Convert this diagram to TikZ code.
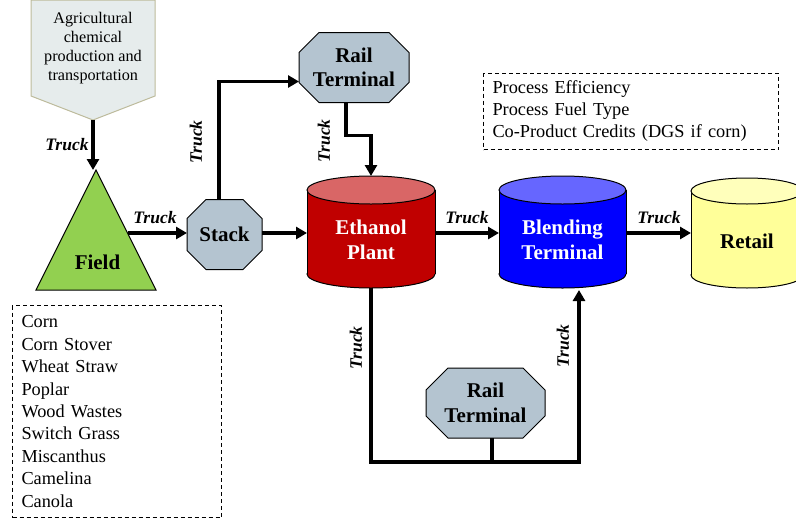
\documentclass[tikz,border=0pt]{standalone}
\usepackage{fontspec}
\setmainfont{Liberation Serif}
\usetikzlibrary{arrows.meta,backgrounds,calc}
\definecolor{octfill}{HTML}{B4C4D0}
\definecolor{fieldgreen}{HTML}{92D050}
\definecolor{agrifill}{HTML}{E6ECEC}
\definecolor{agriline}{HTML}{BDBB9C}
\definecolor{ethbody}{HTML}{C00000}
\definecolor{ethtop}{HTML}{D96666}
\definecolor{blbody}{HTML}{0000FF}
\definecolor{bltop}{HTML}{6666FF}
\definecolor{rtbody}{HTML}{FFFF99}
\definecolor{rttop}{HTML}{FFFFBB}

\newcommand\myoct[2]{%
  \filldraw[fill=octfill, draw=black, line width=1pt]
    ([xshift=#2pt]#1.north west) -- ([xshift=-#2pt]#1.north east) --
    ([yshift=-#2pt]#1.north east) -- ([yshift=#2pt]#1.south east) --
    ([xshift=-#2pt]#1.south east) -- ([xshift=#2pt]#1.south west) --
    ([yshift=#2pt]#1.south west) -- ([yshift=-#2pt]#1.north west) -- cycle;}

\newcommand\mycyl[5]{%
  \filldraw[draw=black, line width=1pt, fill=#4] ([yshift=#3pt]#1.south) ellipse [x radius=#2, y radius=#3];
  \fill[#4] ([yshift=-#3pt]#1.north west) rectangle ([yshift=#3pt]#1.south east);
  \draw[line width=1pt] ([yshift=-#3pt]#1.north west) -- ([yshift=#3pt]#1.south west);
  \draw[line width=1pt] ([yshift=-#3pt]#1.north east) -- ([yshift=#3pt]#1.south east);
  \filldraw[draw=black, line width=1pt, fill=#5] ([yshift=-#3pt]#1.north) ellipse [x radius=#2, y radius=#3];}

\tikzset{
  shapebox/.style={inner sep=0pt, outer sep=0pt},
  bigtxt/.style={font=\fontsize{21}{24.5}\selectfont\bfseries, align=center},
  conn/.style={line width=3.2pt, -{Triangle[length=11pt,width=12pt]}},
  plainconn/.style={line width=3.2pt},
  trucklbl/.style={font=\fontsize{17.5}{20}\selectfont\bfseries\itshape, inner sep=0pt},
  notebox/.style={draw, dash pattern=on 4pt off 3pt, line width=1pt, inner xsep=9pt, inner ysep=0pt, align=left},
}

\begin{document}
\begin{tikzpicture}[x=1pt,y=-1pt]
\useasboundingbox (0,0) rectangle (796,520);

% ---- nodes ----
\node[shapebox, minimum width=124pt, minimum height=96pt, anchor=north,
      font=\fontsize{16.2}{19}\selectfont, align=center] (agri) at (93,0)
      {Agricultural\\chemical\\production and\\transportation};
\coordinate (agritip) at ([yshift=-24pt]agri.south);

\coordinate (fieldtop) at (96,170);
\coordinate (fieldbl) at (36,290);
\coordinate (fieldbr) at (156,290);
\coordinate (fieldR) at (127.5,233);
\node[bigtxt] (field) at (97.5,262) {Field};

\node[shapebox, bigtxt, minimum width=75pt, minimum height=70pt] (stack) at (224.5,234.5) {Stack};
\node[shapebox, bigtxt, minimum width=110pt, minimum height=70pt] (railA) at (354,67.5) {Rail\\Terminal};
\node[shapebox, bigtxt, minimum width=119pt, minimum height=70pt] (railB) at (485.5,403) {Rail\\Terminal};

\node[shapebox, minimum width=128pt, minimum height=112pt] (eth) at (371,232) {};
\node[bigtxt, text=white] (ethtxt) at (371,240) {Ethanol\\Plant};
\node[shapebox, minimum width=127pt, minimum height=112pt] (blend) at (562.5,232) {};
\node[bigtxt, text=white] (blendtxt) at (562.5,240) {Blending\\Terminal};
\node[shapebox, minimum width=112pt, minimum height=110pt] (retail) at (747,233) {};
\node[bigtxt] (retailtxt) at (747,241) {Retail};

\node[notebox, anchor=north west, text width=191pt, minimum height=212pt,
      font=\fontsize{18.3}{22.4}\selectfont] (crops) at (12,305)
      {Corn\\Corn Stover\\Wheat Straw\\Poplar\\Wood Wastes\\Switch Grass\\Miscanthus\\Camelina\\Canola};
\node[notebox, anchor=north west, text width=277pt, minimum height=76pt,
      font=\fontsize{18.3}{22}\selectfont] (process) at (483,73)
      {Process Efficiency\\Process Fuel Type\\Co-Product Credits (DGS if corn)};

% ---- shapes behind ----
\begin{scope}[on background layer]
  \filldraw[fill=agrifill, draw=agriline, line width=1pt]
    (agri.north west) -- (agri.north east) -- (agri.south east) -- (agritip) -- (agri.south west) -- cycle;
  \filldraw[fill=fieldgreen, draw=black, line width=1pt] (fieldtop) -- (fieldbr) -- (fieldbl) -- cycle;
  \myoct{stack}{19}
  \myoct{railA}{20}
  \myoct{railB}{22}
  \mycyl{eth}{64}{14}{ethbody}{ethtop}
  \mycyl{blend}{63.5}{14}{blbody}{bltop}
  \mycyl{retail}{56}{13}{rtbody}{rttop}
\end{scope}

% ---- connectors ----
\draw[conn] (agritip) -- (agritip |- fieldtop);
\draw[conn] (fieldR) -- (fieldR -| stack.west);
\draw[conn] ([yshift=1.5pt]stack.east) -- ([yshift=1.5pt]stack.east -| eth.west);
\draw[conn] ([xshift=-5.5pt]stack.north) |- ([yshift=-14pt]railA.west);
\draw[conn] ([xshift=-8pt]railA.south) -- ++(0,33) -| (eth.north);
\draw[conn] ([yshift=-1pt]eth.east) -- ([yshift=-1pt]blend.west);
\draw[conn] ([yshift=-1pt]blend.east) -- ([yshift=-1pt]blend.east -| retail.west);
\draw[conn] (eth.south) -- ++(0,174) -| ([xshift=16.5pt,yshift=-2pt]blend.south);
\draw[plainconn] ([xshift=6.5pt]railB.south) -- ++(0,25);

% ---- labels ----
\node[trucklbl] (t1) at (67,145) {Truck};
\node[trucklbl] (t2) at (155,218) {Truck};
\node[trucklbl, rotate=90] (t3) at (196,142) {Truck};
\node[trucklbl, rotate=90] (t4) at (324,141) {Truck};
\node[trucklbl] (t5) at (467,218) {Truck};
\node[trucklbl] (t6) at (659,218) {Truck};
\node[trucklbl, rotate=90] (t7) at (356,348) {Truck};
\node[trucklbl, rotate=90] (t8) at (563,346) {Truck};
\end{tikzpicture}
\end{document}
